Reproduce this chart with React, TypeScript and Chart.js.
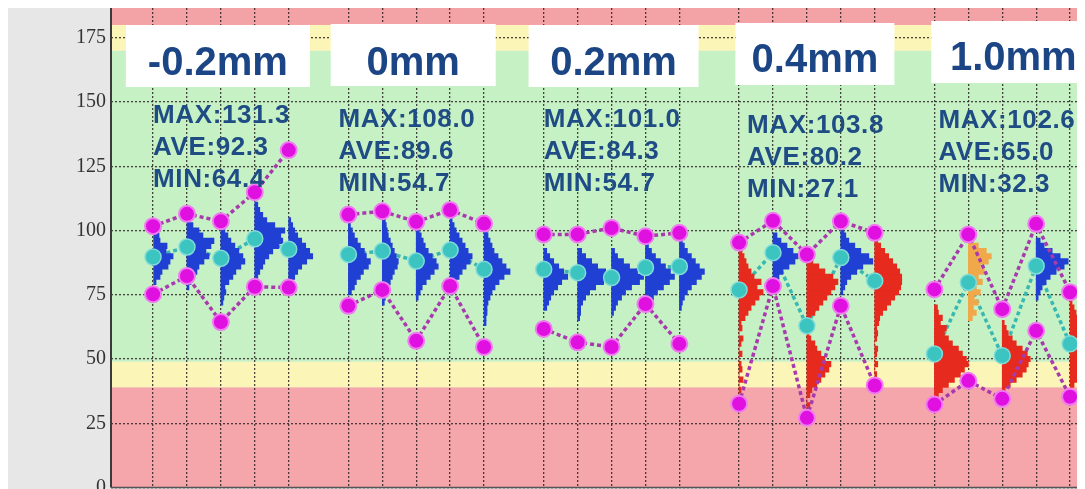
import { useEffect, useRef } from 'react';
import { Chart, registerables } from 'chart.js';

Chart.register(...registerables);

// ---------------- data ----------------
const groupLabels = ['-0.2mm', '0mm', '0.2mm', '0.4mm', '1.0mm'];
const groupMax = [131.3, 108.0, 101.0, 103.8, 102.6];
const groupAve = [92.3, 89.6, 84.3, 80.2, 65.0];
const groupMin = [64.4, 54.7, 54.7, 27.1, 32.3];

const stationMax = [
  [101.7, 106.5, 103.6, 114.9, 131.3],
  [106.2, 107.5, 103.4, 108.0, 102.7],
  [98.5, 98.5, 101.0, 97.8, 99.1],
  [95.3, 103.8, 90.7, 103.6, 99.1],
  [77.1, 98.5, 69.4, 102.6, 76.0],
];
const stationMin = [
  [75.2, 82.3, 64.4, 78.1, 77.8],
  [70.7, 76.9, 57.1, 78.4, 54.7],
  [61.7, 56.5, 54.7, 71.4, 55.9],
  [32.6, 78.4, 27.1, 70.7, 39.7],
  [32.3, 41.5, 34.5, 61.0, 35.3],
];
const stationAve = [
  [89.7, 93.6, 89.2, 96.8, 92.7],
  [90.7, 92.0, 88.1, 92.4, 84.9],
  [84.9, 83.6, 81.7, 85.6, 86.0],
  [76.9, 91.4, 62.9, 89.5, 80.4],
  [52.0, 79.8, 51.3, 86.2, 55.9],
];

// histogram: lowest bin centre and counts per bin (bin width 2)
const histLow = [
  80, 78, 72, 80, 78,
  76, 72, 74, 76, 64,
  70, 66, 68, 70, 70,
  34, 80, 30, 76, 44,
  36, 66, 38, 74, 40,
];
const histCounts = [
  [3, 7, 9, 15, 17, 20, 13, 14, 7, 6, 2],
  [2, 4, 6, 10, 12, 17, 22, 19, 24, 27, 16, 12, 6, 3],
  [2, 3, 5, 4, 8, 12, 15, 20, 24, 22, 18, 14, 10, 7, 4, 2],
  [2, 3, 5, 8, 10, 14, 18, 24, 28, 26, 30, 20, 12, 8, 5, 3],
  [2, 4, 6, 9, 13, 18, 24, 21, 17, 13, 9, 6, 4, 2],

  [3, 6, 8, 12, 15, 20, 22, 18, 16, 12, 9, 6, 4, 2],
  [2, 3, 4, 6, 8, 10, 12, 15, 16, 14, 12, 10, 8, 6, 5, 4, 3, 2],
  [2, 4, 6, 10, 14, 18, 22, 20, 16, 12, 9, 7, 5, 3, 2],
  [2, 4, 6, 9, 12, 16, 20, 22, 18, 15, 12, 9, 6, 4, 2],
  [2, 2, 3, 3, 4, 6, 8, 11, 15, 20, 26, 22, 18, 14, 10, 8, 6, 4, 3, 2],

  [3, 5, 7, 10, 14, 18, 24, 20, 15, 10, 6, 3],
  [2, 3, 3, 5, 8, 12, 18, 26, 30, 28, 20, 14, 8, 4],
  [2, 4, 6, 10, 14, 20, 28, 32, 26, 18, 12, 6, 3],
  [2, 4, 8, 12, 18, 24, 29, 25, 20, 15, 10, 6, 3],
  [2, 3, 5, 8, 12, 17, 22, 25, 20, 16, 12, 8, 5, 3],

  [3, 0, 2, 0, 4, 0, 3, 2, 0, 3, 0, 2, 4, 0, 3, 2, 6, 9, 12, 16, 20, 24, 18, 22, 15, 12, 9, 7, 5, 3, 2],
  [3, 6, 10, 16, 22, 25, 20, 14, 8, 4],
  [2, 3, 0, 3, 5, 10, 14, 18, 22, 24, 18, 14, 10, 8, 4, 2, 3, 0, 4, 8, 12, 16, 20, 24, 28, 31, 26, 18, 12, 6, 3],
  [2, 4, 6, 10, 16, 22, 32, 28, 20, 14, 8, 5, 3],
  [2, 0, 3, 0, 2, 3, 0, 2, 3, 2, 4, 5, 8, 12, 16, 20, 24, 26, 27, 27, 25, 22, 18, 14, 10, 6, 3],

  [4, 8, 14, 20, 26, 30, 34, 32, 28, 24, 18, 14, 10, 12, 6, 8, 4, 3],
  [4, 8, 5, 10, 6, 12, 8, 14, 10, 16, 12, 20, 23, 18, 10],
  [3, 8, 14, 20, 24, 26, 28, 25, 20, 14, 10, 6, 4, 2],
  [2, 4, 6, 10, 14, 20, 28, 32, 24, 16, 8, 4],
  [4, 8, 12, 16, 20, 24, 26, 27, 26, 24, 20, 16, 12, 8, 6, 4, 2],
];
const histKind = [
  'B', 'B', 'B', 'B', 'B',
  'B', 'B', 'B', 'B', 'B',
  'B', 'B', 'B', 'B', 'B',
  'R', 'B', 'R', 'B', 'R',
  'R', 'O', 'R', 'B', 'R',
];

const yTickValues = [0, 25, 50, 75, 100, 125, 150, 175];
const bandEdges = [0, 39, 49, 170, 180, 186.6];

// ---------------- layout / style constants ----------------
const BIN = 2;
const GROUP_STEP = 5.76;
const HIST_UNIT = 1 / 33.9;
const X_MIN = -1.24;
const X_MAX = 27.48;
const Y_MAX = 186.6;

const bandColors = ['#f5a6aa', '#fbf5b8', '#c6f1c5', '#fbf5b8', '#f3a2a5'];
const histColorMap: Record<string, string> = { B: '#2040d4', R: '#e62a1e', O: '#f0a84a' };
const GRID = 'rgba(45,35,35,0.85)';

const titleDx = [-3, -3, 2, 8, 11];
const boxW = [184, 165, 170, 159, 164];
const boxTop = [17, 16, 17, 15, 13];
const titleBase = [67, 67, 67, 64, 62];
const statsDx = [0, -10, 0, 8, 4];
const statsBase = [115, 119, 119, 125, 120];

const stationX = (g: number, s: number) => g * GROUP_STEP + s;
const stationXs: number[] = [];
stationMax.forEach((row, g) => row.forEach((_, s) => stationXs.push(stationX(g, s))));

function seriesPoints(vals: number[][]) {
  const pts: { x: number; y: number | null }[] = [];
  vals.forEach((row, g) => {
    row.forEach((v, s) => pts.push({ x: stationX(g, s), y: v }));
    pts.push({ x: stationX(g, row.length - 1) + 0.5, y: null });
  });
  return pts;
}

const bgPlugin = {
  id: 'bgBands',
  beforeDraw(chart: any) {
    const { ctx, chartArea, scales } = chart;
    ctx.save();
    ctx.fillStyle = '#e7e7e7';
    ctx.fillRect(0, 0, chart.width, chart.height);
    for (let i = 0; i < bandColors.length; i++) {
      const yTop = scales.y.getPixelForValue(bandEdges[i + 1]);
      const yBot = scales.y.getPixelForValue(bandEdges[i]);
      ctx.fillStyle = bandColors[i];
      const t = Math.max(chartArea.top, yTop);
      ctx.fillRect(chartArea.left, t, chartArea.right - chartArea.left, yBot - t);
    }
    ctx.restore();
  },
};

const overlayPlugin = {
  id: 'overlay',
  afterDraw(chart: any) {
    const { ctx, chartArea, scales } = chart;
    const xs = scales.x;
    ctx.save();
    ctx.strokeStyle = '#3a3a3a';
    ctx.lineWidth = 2;
    ctx.beginPath();
    ctx.moveTo(chartArea.left, chartArea.top);
    ctx.lineTo(chartArea.left, chartArea.bottom);
    ctx.stroke();
    ctx.lineWidth = 1.5;
    ctx.strokeStyle = '#555';
    ctx.beginPath();
    ctx.moveTo(chartArea.left, chartArea.bottom);
    ctx.lineTo(chartArea.right, chartArea.bottom);
    ctx.stroke();

    groupLabels.forEach((label, g) => {
      const cx = xs.getPixelForValue(stationX(g, 2)) + titleDx[g];
      ctx.fillStyle = '#ffffff';
      ctx.fillRect(cx - boxW[g] / 2, chartArea.top + boxTop[g], boxW[g], 62);
      ctx.fillStyle = '#1b4585';
      ctx.font = 'bold 40px "Liberation Sans", Arial, sans-serif';
      ctx.textAlign = 'center';
      ctx.textBaseline = 'alphabetic';
      ctx.fillText(label, cx, chartArea.top + titleBase[g]);

      const sx = xs.getPixelForValue(stationX(g, 0)) + statsDx[g];
      ctx.fillStyle = '#1f4c84';
      ctx.font = 'bold 26px "Liberation Sans", Arial, sans-serif';
      ctx.textAlign = 'left';
      (ctx as any).letterSpacing = '0.6px';
      const lines = [
        'MAX:' + groupMax[g].toFixed(1),
        'AVE:' + groupAve[g].toFixed(1),
        'MIN:' + groupMin[g].toFixed(1),
      ];
      lines.forEach((t, i) => ctx.fillText(t, sx, chartArea.top + statsBase[g] + i * 32));
      (ctx as any).letterSpacing = '0px';
    });
    ctx.restore();
  },
};

export default function App() {
  const ref = useRef<HTMLCanvasElement | null>(null);

  useEffect(() => {
    document.documentElement.style.overflow = 'hidden';
    document.body.style.overflow = 'hidden';
    if (!ref.current) return;

    const histDatasets = histCounts.map((counts, k) => {
      const g = Math.floor(k / 5);
      const s = k % 5;
      const sx = stationX(g, s);
      return {
        type: 'bar' as const,
        indexAxis: 'y' as const,
        grouped: false,
        barThickness: 5.5,
        borderWidth: 0,
        backgroundColor: histColorMap[histKind[k]],
        order: 20,
        data: counts.map((c, i) => ({ y: histLow[k] + i * BIN, x: [sx, sx + c * HIST_UNIT] })),
      };
    });

    const datasets: any[] = [
      {
        type: 'line',
        data: seriesPoints(stationAve),
        borderColor: '#38b8b2',
        borderWidth: 3.5,
        borderDash: [4, 3],
        pointRadius: 0,
        fill: false,
        spanGaps: false,
        order: 30,
      },
      ...histDatasets,
      {
        type: 'line',
        data: seriesPoints(stationAve),
        showLine: false,
        pointRadius: 8,
        pointBackgroundColor: '#3cc4c0',
        pointBorderColor: '#7fdcd8',
        pointBorderWidth: 1.5,
        order: 10,
      },
      {
        type: 'line',
        data: seriesPoints(stationMax),
        borderColor: '#a93aae',
        borderWidth: 3.5,
        borderDash: [4, 3],
        pointRadius: 8,
        pointBackgroundColor: '#e010e0',
        pointBorderColor: '#f07af0',
        pointBorderWidth: 2,
        fill: false,
        spanGaps: false,
        order: 5,
      },
      {
        type: 'line',
        data: seriesPoints(stationMin),
        borderColor: '#a93aae',
        borderWidth: 3.5,
        borderDash: [4, 3],
        pointRadius: 8,
        pointBackgroundColor: '#e010e0',
        pointBorderColor: '#f07af0',
        pointBorderWidth: 2,
        fill: false,
        spanGaps: false,
        order: 5,
      },
    ];

    const chart = new Chart(ref.current, {
      type: 'line',
      data: { datasets },
      options: {
        animation: false,
        responsive: false,
        events: [],
        layout: { autoPadding: false, padding: { top: 0, right: 0, bottom: 1.5, left: 0 } },
        plugins: { legend: { display: false }, tooltip: { enabled: false } },
        scales: {
          x: {
            type: 'linear',
            min: X_MIN,
            max: X_MAX,
            bounds: 'data',
            offset: false,
            afterBuildTicks: (s: any) => {
              s.ticks = stationXs.map((v) => ({ value: v }));
            },
            afterFit: (s: any) => {
              s.height = 0;
            },
            ticks: { display: false },
            grid: { drawTicks: false, offset: false, color: GRID, lineWidth: 1.3 },
            border: { display: false, dash: [2, 2] },
          },
          y: {
            type: 'linear',
            min: 0,
            max: Y_MAX,
            bounds: 'data',
            offset: false,
            afterBuildTicks: (s: any) => {
              s.ticks = yTickValues.map((v) => ({ value: v }));
            },
            afterFit: (s: any) => {
              s.width = 103;
              s.paddingTop = 0;
              s.paddingBottom = 0;
            },
            ticks: {
              padding: 5,
              color: '#333',
              font: { family: '"Liberation Serif", "DejaVu Serif", serif', size: 20 },
            },
            grid: { drawTicks: false, offset: false, color: GRID, lineWidth: 1.3 },
            border: { display: false, dash: [2, 2] },
          },
        },
      } as any,
      plugins: [bgPlugin, overlayPlugin],
    });
    return () => chart.destroy();
  }, []);

  return (
    <div style={{ width: 1077, height: 481 }}>
      <canvas ref={ref} width={1077} height={481} style={{ display: 'block', width: 1077, height: 481 }} />
    </div>
  );
}
